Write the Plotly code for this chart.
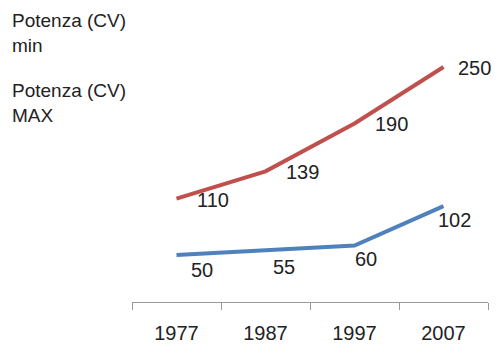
import plotly.graph_objects as go

years = ["1977", "1987", "1997", "2007"]
series_names = ["Potenza (CV)<br>min", "Potenza (CV)<br>MAX"]
cv_min = [50, 55, 60, 102]
cv_max = [110, 139, 190, 250]

# label placement (pixel offsets from each point), layout only
min_label_dx = [25, 18, 11, 11]
min_label_dy = [-15, -17, -13, -14]
max_label_dx = [18, 18, 18, 12]

FONT = "Liberation Sans"
TXT = "#222222"
fig = go.Figure()
fig.add_trace(go.Scatter(
    x=years, y=cv_min, mode="lines", name=series_names[0],
    line=dict(color="#4F81BD", width=4),
))
fig.add_trace(go.Scatter(
    x=years, y=cv_max, mode="lines", name=series_names[1],
    line=dict(color="#C0504D", width=4),
))

for i, v in enumerate(cv_min):
    fig.add_annotation(x=i, y=v, text=str(v), showarrow=False,
                       xanchor="center", yanchor="middle",
                       xshift=min_label_dx[i], yshift=min_label_dy[i],
                       font=dict(family=FONT, size=20, color=TXT))
for i, v in enumerate(cv_max):
    fig.add_annotation(x=i, y=v, text=str(v), showarrow=False,
                       xanchor="left", yanchor="middle",
                       xshift=max_label_dx[i], yshift=-1,
                       font=dict(family=FONT, size=20, color=TXT))

leg_y = [1.043, 0.793]
for i, nm in enumerate(series_names):
    fig.add_annotation(
        text=nm, xref="paper", yref="paper", x=-0.343, y=leg_y[i],
        xanchor="left", yanchor="top", align="left", showarrow=False,
        font=dict(family=FONT, size=19, color=TXT),
    )

fig.update_layout(
    width=485, height=336,
    margin=dict(l=124, r=5, t=12, b=42),
    paper_bgcolor="white", plot_bgcolor="white",
    showlegend=False,
    font=dict(family=FONT, size=20, color=TXT),
)
fig.update_xaxes(
    type="category", range=[-0.5, 3.5], automargin=False,
    showline=True, linecolor="#999999", linewidth=1,
    ticks="outside", tickson="boundaries", ticklen=7, tickcolor="#999999",
    ticklabelstandoff=13,
    showgrid=False, tickfont=dict(family=FONT, size=20, color=TXT),
)
fig.update_yaxes(range=[0, 300], visible=False, showgrid=False, automargin=False)

fig.write_html("out.html")
